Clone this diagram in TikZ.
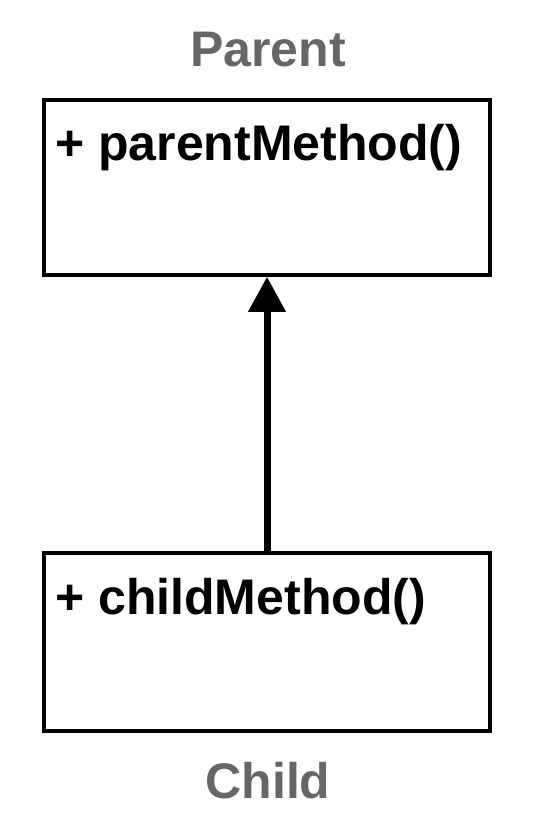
\documentclass[tikz,border=0pt]{standalone}
\usepackage{fontspec}
\setmainfont{Liberation Sans}
\usetikzlibrary{arrows.meta}
\begin{document}
\begin{tikzpicture}[x=1pt,y=-1pt,
  classbox/.style={draw=black, line width=3.5pt, fill=white, minimum width=446pt, inner sep=0pt},
  method/.style={anchor=base west, inner sep=0pt, font=\fontsize{50}{56}\selectfont\bfseries, text=black},
  classname/.style={anchor=base, inner sep=0pt, font=\fontsize{50}{56}\selectfont\bfseries, text=black!60},
  inherit/.style={line width=7pt, -{Triangle[width=36pt,length=35pt]}}]
\useasboundingbox[fill=white] (0,0) rectangle (534,818);
\node[classbox, minimum height=175pt] (parent) at (267,187.5) {};
\node[classbox, minimum height=178pt] (child) at (267,642) {};
\node[method] (pm) at (55,161) {+ parentMethod()};
\node[method] (cm) at (55,614) {+ childMethod()};
\node[classname] (pname) at (268,67) {Parent};
\node[classname] (cname) at (268,798) {Child};
\draw[inherit] (child.north) -- (parent.south);
\end{tikzpicture}
\end{document}
